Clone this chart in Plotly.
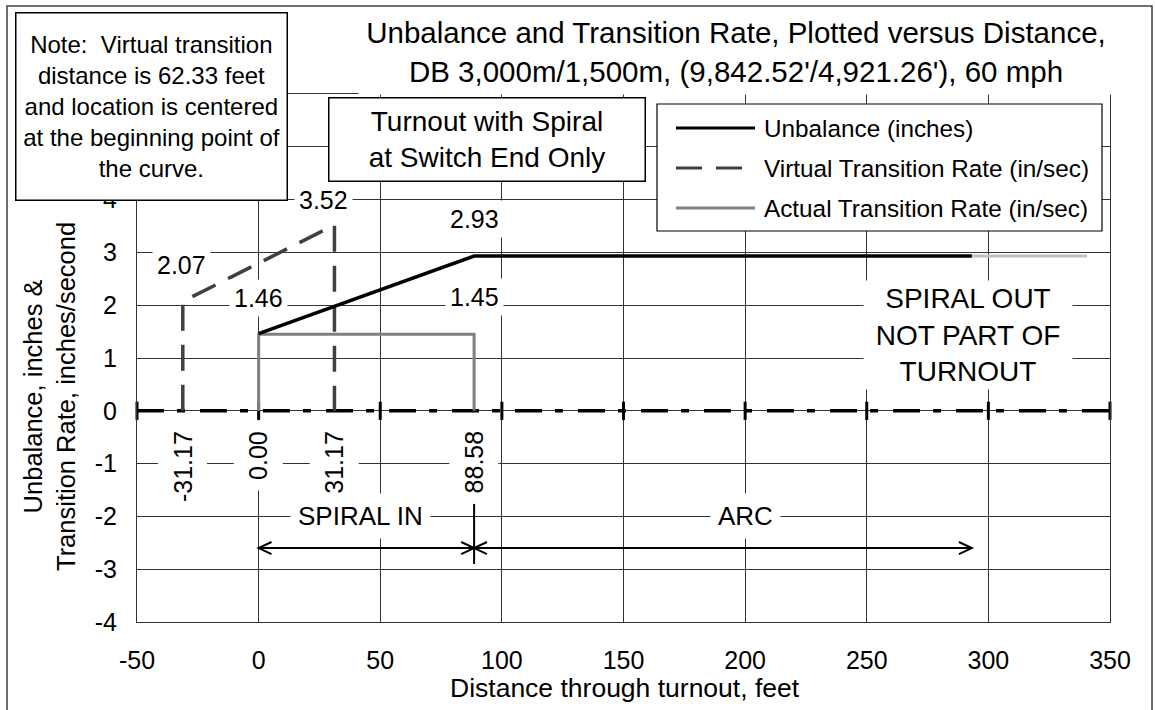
import plotly.graph_objects as go

W, H = 1155, 710
ML, MR, MT, MB = 137, 45, 94, 88
FONT = "Liberation Sans, Arial, sans-serif"

# --- data (distance in feet, unbalance in inches, rates in in/sec) ---
unb_x = [0.0, 88.58, 293.2]
unb_y = [1.46, 2.93, 2.93]
spiral_out_x = [293.2, 340.6]
spiral_out_y = [2.93, 2.93]
virt_x = [-31.17, -31.17, 31.17, 31.17]
virt_y = [0.0, 2.07, 3.52, 0.0]
act_x = [0.0, 0.0, 88.58, 88.58]
act_y = [0.0, 1.45, 1.45, 0.0]

x_ticks = [-50, 0, 50, 100, 150, 200, 250, 300, 350]
y_ticks = [-4, -3, -2, -1, 0, 1, 2, 3, 4, 5, 6]
# labels for 5 and 6 sit under the note box in the original, so they stay blank
y_ticktext = ["-4", "-3", "-2", "-1", "0", "1", "2", "3", "4", "", ""]

series_names = ["Unbalance (inches)", "Virtual Transition Rate (in/sec)",
                "Actual Transition Rate (in/sec)"]
series_colors = ["#000000", "#404040", "#808080"]
series_dash = ["solid", "26px,14px", "solid"]

arrow_y = -2.6
arc_end = unb_x[2]


def px(x):
    # pixel -> paper x
    return (x - ML) / (W - ML - MR)


def py(y):
    # pixel -> paper y
    return (H - MB - y) / (H - MT - MB)


def font(size):
    return dict(size=size, color="black", family=FONT)


fig = go.Figure()

# zero axis drawn as a thick dash-dot line with cross tick marks
fig.add_trace(go.Scatter(
    x=x_ticks, y=[0] * len(x_ticks), mode="lines+markers",
    line=dict(color="black", width=3.5, dash="27px,13px,8px,15px"),
    marker=dict(symbol="line-ns", size=13, line=dict(color="black", width=3)),
    showlegend=False, hoverinfo="skip", cliponaxis=False))

fig.add_trace(go.Scatter(x=spiral_out_x, y=spiral_out_y, mode="lines",
                         line=dict(color="#c0c0c0", width=3), showlegend=False))
fig.add_trace(go.Scatter(x=act_x, y=act_y, mode="lines", name=series_names[2],
                         line=dict(color=series_colors[2], width=3), showlegend=False))
fig.add_trace(go.Scatter(x=virt_x, y=virt_y, mode="lines", name=series_names[1],
                         line=dict(color=series_colors[1], width=3.5, dash=series_dash[1]),
                         showlegend=False))
fig.add_trace(go.Scatter(x=unb_x, y=unb_y, mode="lines", name=series_names[0],
                         line=dict(color=series_colors[0], width=3.5), showlegend=False))

ann = []
shapes = []

# point value labels above lines
for x, y, dx, dy in [(virt_x[1], virt_y[1], -1, 37), (virt_x[2], virt_y[2], -11, 25),
                     (unb_x[0], unb_y[0], 0, 36), (unb_x[1], unb_y[1], 0, 37),
                     (act_x[2], act_y[2], 0, 37)]:
    ann.append(dict(x=x, y=y, xref="x", yref="y", text=f"{y:.2f}", showarrow=False,
                    xanchor="center", yanchor="middle",
                    xshift=dx, yshift=dy, bgcolor="white", borderpad=4, font=font(25)))

# distance labels below zero line
for x in [virt_x[0], act_x[0], virt_x[2], act_x[2]]:
    ann.append(dict(x=x, y=0, xref="x", yref="y", text=f"{x:.2f}", showarrow=False,
                    textangle=-90, xanchor="center", yanchor="top", yshift=-9,
                    bgcolor="white", borderpad=10, font=font(25)))

# section labels
ann.append(dict(x=42, y=-2, xref="x", yref="y", text="SPIRAL IN", showarrow=False,
                xanchor="center", yanchor="middle",
                bgcolor="white", borderpad=7, font=font(26)))
ann.append(dict(x=200, y=-2, xref="x", yref="y", text="ARC", showarrow=False,
                xanchor="center", yanchor="middle",
                bgcolor="white", borderpad=7, font=font(26)))
ann.append(dict(x=291.7, y=1.43, xref="x", yref="y",
                text="SPIRAL OUT<br>NOT PART OF<br>TURNOUT", showarrow=False,
                xanchor="center", yanchor="middle",
                bgcolor="white", width=206, height=106, font=font(28)))

# arrows
hx, hy = 5.3, 0.115
for x0, x1 in [(act_x[0], act_x[2]), (act_x[2], arc_end)]:
    shapes.append(dict(type="line", xref="x", yref="y", x0=x0, x1=x1, y0=arrow_y, y1=arrow_y,
                       line=dict(color="black", width=2)))
for x, d in [(act_x[0], 1), (act_x[2], -1), (act_x[2], 1), (arc_end, -1)]:
    shapes.append(dict(type="path", xref="x", yref="y",
                       path=f"M {x + d * hx},{arrow_y + hy} L {x},{arrow_y} L {x + d * hx},{arrow_y - hy}",
                       line=dict(color="black", width=2)))
shapes.append(dict(type="line", xref="x", yref="y", x0=act_x[2], x1=act_x[2], y0=-1.75, y1=-2.9,
                   line=dict(color="black", width=2)))

# title with white box
ann.append(dict(x=px(736), y=py(52), xref="paper", yref="paper",
                text="Unbalance and Transition Rate, Plotted versus Distance,<br>"
                     "DB 3,000m/1,500m, (9,842.52'/4,921.26'), 60 mph",
                showarrow=False, xanchor="center", yanchor="middle",
                bgcolor="white", width=752, height=82, font=font(29.5)))

# note box
ann.append(dict(x=px(151.5), y=py(106.5), xref="paper", yref="paper",
                text="Note:\u00a0 Virtual transition<br>distance is 62.33 feet<br>"
                     "and location is centered<br>at the beginning point of<br>the curve.",
                showarrow=False, xanchor="center", yanchor="middle",
                bgcolor="white", bordercolor="black", borderwidth=1.5,
                borderpad=1, width=268, height=184, font=font(24)))

# turnout box
ann.append(dict(x=px(487.4), y=py(139.7), xref="paper", yref="paper",
                text="Turnout with Spiral<br>at Switch End Only",
                showarrow=False, xanchor="center", yanchor="middle",
                bgcolor="white", bordercolor="black", borderwidth=1.5,
                borderpad=1, width=313, height=80, font=font(28)))

# axis titles
ann.append(dict(x=px(625), y=py(688), xref="paper", yref="paper",
                text="Distance through turnout, feet", showarrow=False,
                xanchor="center", yanchor="middle", font=font(26.5)))
ann.append(dict(x=px(49), y=py(397), xref="paper", yref="paper",
                text="Unbalance, inches &<br>Transition Rate, inches/second",
                showarrow=False, textangle=-90, xanchor="center", yanchor="middle",
                font=font(25.5)))

# legend (drawn by hand to match long sample lines)
shapes.append(dict(type="rect", xref="paper", yref="paper", x0=px(657), x1=px(1102),
                   y0=py(231), y1=py(104), fillcolor="white", layer="above",
                   line=dict(color="black", width=1.2)))
for i, (name, col, dash) in enumerate(zip(series_names, series_colors, series_dash)):
    yy = py(128 + 40 * i)
    shapes.append(dict(type="line", xref="paper", yref="paper", x0=px(676), x1=px(755),
                       y0=yy, y1=yy, layer="above", line=dict(color=col, width=3, dash=dash)))
    ann.append(dict(x=px(762), y=yy, xref="paper", yref="paper", text=name,
                    showarrow=False, xanchor="left", yanchor="middle", font=font(24.3)))

# outer chart border
shapes.append(dict(type="rect", xref="paper", yref="paper", x0=px(7), x1=px(1152),
                   y0=py(712), y1=py(6), line=dict(color="#404040", width=1.5), layer="above"))

grid = "#333333"
fig.update_layout(
    width=W, height=H, autosize=False,
    margin=dict(l=ML, r=MR, t=MT, b=MB, pad=0, autoexpand=False),
    paper_bgcolor="white", plot_bgcolor="white",
    font=font(25),
    showlegend=False,
    xaxis=dict(range=[-50, 350], tickvals=x_ticks, ticktext=[str(v) for v in x_ticks],
               showgrid=True, gridcolor=grid, gridwidth=1, zeroline=False,
               showline=True, linecolor=grid, linewidth=1, mirror=True,
               ticks="", ticklabelstandoff=16, tickfont=font(25)),
    yaxis=dict(range=[-4, 6], tickvals=y_ticks, ticktext=y_ticktext,
               showgrid=True, gridcolor=grid, gridwidth=1, zeroline=False,
               showline=True, linecolor=grid, linewidth=1, mirror=True,
               ticks="", ticklabelstandoff=14, tickfont=font(25)),
    annotations=ann,
    shapes=shapes,
)

# the page body has a default 8px margin; remove it so the chart fills the window
fig.write_html("out.html", config={"displayModeBar": False},
               post_script="document.body.style.margin='0';")
